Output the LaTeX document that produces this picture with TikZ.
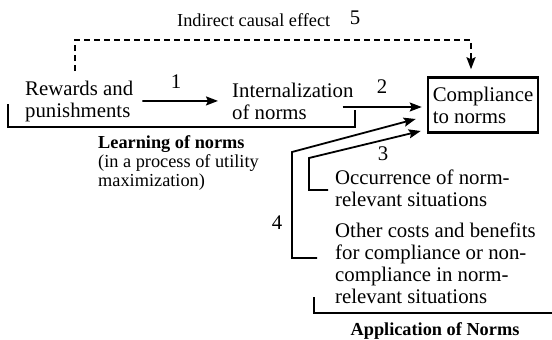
\documentclass[tikz,border=0pt]{standalone}
\usepackage{fontspec}
\setmainfont{Liberation Serif}
\usetikzlibrary{arrows.meta}

\begin{document}
\begin{tikzpicture}[x=1pt, y=-1pt,
    txt/.style={font=\fontsize{20.8}{22}\selectfont, align=left, inner sep=0pt, anchor=base west},
    captxt/.style={font=\fontsize{18.3}{19}\selectfont, align=left, inner sep=0pt, anchor=base west},
    num/.style={font=\fontsize{20.8}{22}\selectfont, inner sep=0pt, anchor=base},
    target/.style={draw, line width=2.5pt, minimum width=110pt, minimum height=55pt, align=left, inner sep=0pt, font=\fontsize{20.8}{22}\selectfont},
    link/.style={line width=1.8pt, -{Stealth[length=12pt, width=9pt, inset=2pt]}},
    dashlink/.style={link, dash pattern=on 6pt off 4pt},
    bracket/.style={line width=1.8pt}
]
    \useasboundingbox (0,0) rectangle (552,340);

    % Texts (multi-line nodes sit on their last baseline)
    \node[captxt] (indirect) at (177,27) {Indirect causal effect};
    \node[txt] (rew) at (25,117) {Rewards and\\punishments};
    \node[txt] (int) at (232,119) {Internalization\\of norms};
    \node[target] (comp) at (483,105) {Compliance\\to norms};
    \node[captxt] (learn) at (98,186) {\textbf{Learning of norms}\\(in a process of utility\\maximization)};
    \node[txt] (occ) at (335,206) {Occurrence of norm-\\relevant situations};
    \node[txt] (other) at (335,303) {Other costs and benefits\\for compliance or non-\\compliance in norm-\\relevant situations};
    \node[captxt, anchor=base] (appl) at (435,335) {\textbf{Application of Norms}};

    % Numbers
    \node[num] (n1) at (176,88) {1};
    \node[num] (n2) at (382,93) {2};
    \node[num] (n3) at (383,160) {3};
    \node[num] (n4) at (277,229) {4};
    \node[num] (n5) at (355,24) {5};

    % Bend points
    \coordinate (d0) at (75,71);
    \coordinate (d1) at (471,40);
    \coordinate (occfoot) at (328,190);
    \coordinate (otherfoot) at (317,258);

    % Causal paths
    \draw[link, shorten <=9pt, shorten >=14pt] (rew) -- (int);
    \draw[link, shorten >=5pt] ([xshift=-11pt, yshift=-2pt]int.east |- comp.west) -- ([yshift=-2pt]comp.west);
    \draw[link] (occfoot) -| (309,158) -- ([shift={(-6,26)}]comp.west);
    \draw[link] (otherfoot) -| (292,152) -- ([shift={(-11,14)}]comp.west);
    \draw[dashlink, shorten >=7pt] (d0) |- (d1) -- ([xshift=-12pt]comp.north);

    % Brackets
    \draw[bracket] (8,104) -- (8,127) -- (355,127) -- (355,110);
    \draw[bracket] (314,297) -- (314,313) -- (553,313);

\end{tikzpicture}
\end{document}
